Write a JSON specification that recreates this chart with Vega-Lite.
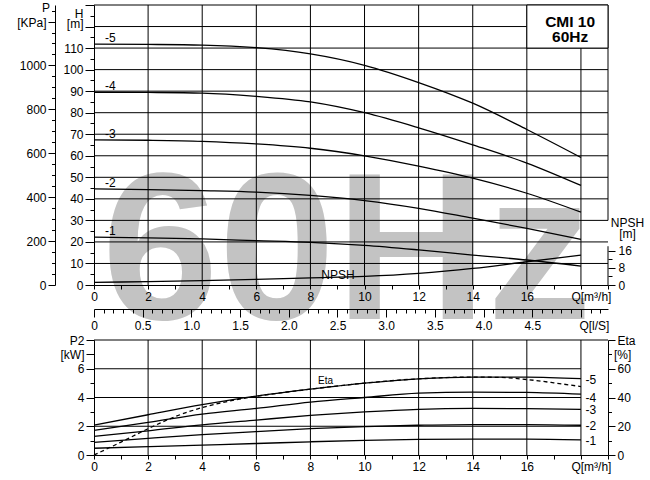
{
  "$schema": "https://vega.github.io/schema/vega-lite/v6.json",
  "padding": {"left": 16, "top": 1, "right": 5, "bottom": 5},
  "autosize": {"type": "pad"},
  "config": {
    "font": "Liberation Sans",
    "view": {"stroke": null},
    "axis": {
      "zindex": 2,
      "grid": false,
      "domainColor": "black",
      "domainWidth": 1,
      "tickColor": "black",
      "tickWidth": 1,
      "labelColor": "black",
      "labelFont": "Liberation Sans",
      "labelFontSize": 12,
      "labelOverlap": false,
      "labelFlush": false,
      "labelBound": false
    }
  },
  "datasets": {
    "head": [
      {"s": "-5", "q": 0, "h": 111.8}, {"s": "-5", "q": 2, "h": 111.7}, {"s": "-5", "q": 4, "h": 111.4}, {"s": "-5", "q": 6, "h": 110.2}, {"s": "-5", "q": 8, "h": 107.3}, {"s": "-5", "q": 10, "h": 102}, {"s": "-5", "q": 12, "h": 94}, {"s": "-5", "q": 14, "h": 84.4}, {"s": "-5", "q": 16, "h": 72.2}, {"s": "-5", "q": 18, "h": 59.2},
      {"s": "-4", "q": 0, "h": 89.5}, {"s": "-4", "q": 2, "h": 89.4}, {"s": "-4", "q": 4, "h": 89.1}, {"s": "-4", "q": 6, "h": 87.6}, {"s": "-4", "q": 8, "h": 85}, {"s": "-4", "q": 10, "h": 80}, {"s": "-4", "q": 12, "h": 73}, {"s": "-4", "q": 14, "h": 65.1}, {"s": "-4", "q": 16, "h": 56.6}, {"s": "-4", "q": 18, "h": 46.2},
      {"s": "-3", "q": 0, "h": 67.4}, {"s": "-3", "q": 2, "h": 67.2}, {"s": "-3", "q": 4, "h": 66.7}, {"s": "-3", "q": 6, "h": 65.5}, {"s": "-3", "q": 8, "h": 63.5}, {"s": "-3", "q": 10, "h": 60}, {"s": "-3", "q": 12, "h": 55.2}, {"s": "-3", "q": 14, "h": 49.6}, {"s": "-3", "q": 16, "h": 42.6}, {"s": "-3", "q": 18, "h": 33.8},
      {"s": "-2", "q": 0, "h": 44.6}, {"s": "-2", "q": 2, "h": 44.3}, {"s": "-2", "q": 4, "h": 43.8}, {"s": "-2", "q": 6, "h": 43.1}, {"s": "-2", "q": 8, "h": 41.6}, {"s": "-2", "q": 10, "h": 39.2}, {"s": "-2", "q": 12, "h": 35.6}, {"s": "-2", "q": 14, "h": 31}, {"s": "-2", "q": 16, "h": 26.3}, {"s": "-2", "q": 18, "h": 21.2},
      {"s": "-1", "q": 0, "h": 22.2}, {"s": "-1", "q": 2, "h": 21.9}, {"s": "-1", "q": 4, "h": 21.4}, {"s": "-1", "q": 6, "h": 20.6}, {"s": "-1", "q": 8, "h": 19.8}, {"s": "-1", "q": 10, "h": 18.4}, {"s": "-1", "q": 12, "h": 16.3}, {"s": "-1", "q": 14, "h": 13.9}, {"s": "-1", "q": 16, "h": 11.6}, {"s": "-1", "q": 18, "h": 8.8},
      {"s": "NPSH", "q": 0, "h": 1.2}, {"s": "NPSH", "q": 2, "h": 1.6}, {"s": "NPSH", "q": 4, "h": 2.0}, {"s": "NPSH", "q": 6, "h": 2.6}, {"s": "NPSH", "q": 8, "h": 3.3}, {"s": "NPSH", "q": 10, "h": 4.0}, {"s": "NPSH", "q": 12, "h": 5.4}, {"s": "NPSH", "q": 14, "h": 7.7}, {"s": "NPSH", "q": 16, "h": 10.8}, {"s": "NPSH", "q": 18, "h": 13.9}
    ],
    "power": [
      {"s": "-5", "q": 0, "p": 2.08}, {"s": "-5", "q": 2, "p": 2.8}, {"s": "-5", "q": 4, "p": 3.5}, {"s": "-5", "q": 6, "p": 4.1}, {"s": "-5", "q": 8, "p": 4.58}, {"s": "-5", "q": 10, "p": 5.0}, {"s": "-5", "q": 12, "p": 5.3}, {"s": "-5", "q": 14, "p": 5.42}, {"s": "-5", "q": 16, "p": 5.42}, {"s": "-5", "q": 18, "p": 5.31},
      {"s": "-4", "q": 0, "p": 1.72}, {"s": "-4", "q": 2, "p": 2.27}, {"s": "-4", "q": 4, "p": 2.85}, {"s": "-4", "q": 6, "p": 3.24}, {"s": "-4", "q": 8, "p": 3.68}, {"s": "-4", "q": 10, "p": 4.0}, {"s": "-4", "q": 12, "p": 4.3}, {"s": "-4", "q": 14, "p": 4.38}, {"s": "-4", "q": 16, "p": 4.35}, {"s": "-4", "q": 18, "p": 4.23},
      {"s": "-3", "q": 0, "p": 1.3}, {"s": "-3", "q": 2, "p": 1.68}, {"s": "-3", "q": 4, "p": 2.1}, {"s": "-3", "q": 6, "p": 2.43}, {"s": "-3", "q": 8, "p": 2.75}, {"s": "-3", "q": 10, "p": 3.0}, {"s": "-3", "q": 12, "p": 3.18}, {"s": "-3", "q": 14, "p": 3.24}, {"s": "-3", "q": 16, "p": 3.22}, {"s": "-3", "q": 18, "p": 3.17},
      {"s": "-2", "q": 0, "p": 0.88}, {"s": "-2", "q": 2, "p": 1.16}, {"s": "-2", "q": 4, "p": 1.42}, {"s": "-2", "q": 6, "p": 1.63}, {"s": "-2", "q": 8, "p": 1.83}, {"s": "-2", "q": 10, "p": 1.98}, {"s": "-2", "q": 12, "p": 2.07}, {"s": "-2", "q": 14, "p": 2.12}, {"s": "-2", "q": 16, "p": 2.12}, {"s": "-2", "q": 18, "p": 2.07},
      {"s": "-1", "q": 0, "p": 0.47}, {"s": "-1", "q": 2, "p": 0.58}, {"s": "-1", "q": 4, "p": 0.69}, {"s": "-1", "q": 6, "p": 0.8}, {"s": "-1", "q": 8, "p": 0.92}, {"s": "-1", "q": 10, "p": 1.02}, {"s": "-1", "q": 12, "p": 1.08}, {"s": "-1", "q": 14, "p": 1.1}, {"s": "-1", "q": 16, "p": 1.1}, {"s": "-1", "q": 18, "p": 1.05}
    ],
    "eta": [
      {"q": 0, "eta": 0}, {"q": 1, "eta": 9}, {"q": 2, "eta": 18.3}, {"q": 3, "eta": 26.7}, {"q": 4, "eta": 33}, {"q": 5, "eta": 37.5}, {"q": 6, "eta": 40.8}, {"q": 8, "eta": 45.8}, {"q": 10, "eta": 50}, {"q": 12, "eta": 53}, {"q": 14, "eta": 54.2}, {"q": 15, "eta": 54}, {"q": 16, "eta": 52.5}, {"q": 17, "eta": 50.2}, {"q": 18, "eta": 47.6}
    ]
  },
  "bounds": "flush",
  "spacing": 55,
  "vconcat": [
    {
      "width": 514,
      "height": 280,
      "resolve": {"scale": {"x": "independent", "y": "independent"}},
      "layer": [
        {
          "data": {"values": [{}]},
          "mark": {"type": "text", "text": "60Hz", "font": "Liberation Sans", "fontSize": 210, "fontWeight": "bold", "color": "#c3c3c3", "align": "center", "baseline": "alphabetic"},
          "encoding": {
            "x": {"datum": 9.35, "type": "quantitative", "scale": {"domain": [0, 19], "nice": false, "zero": false}, "axis": null},
            "y": {"datum": -15.6, "type": "quantitative", "scale": {"domain": [0, 130], "nice": false, "zero": false}, "axis": null}
          }
        },
        {
          "data": {"values": [{"h": 10}, {"h": 20}, {"h": 30}, {"h": 40}, {"h": 50}, {"h": 60}, {"h": 70}, {"h": 80}, {"h": 90}, {"h": 100}, {"h": 110}, {"h": 120}, {"h": 130}]},
          "mark": {"type": "rule", "color": "black", "strokeWidth": 1},
          "encoding": {
            "y": {"field": "h", "type": "quantitative", "scale": {"domain": [0, 130], "nice": false, "zero": false}, "axis": null}
          }
        },
        {
          "data": {"values": [
            {"q": 2, "lo": 0, "hi": 130}, {"q": 4, "lo": 0, "hi": 130}, {"q": 6, "lo": 0, "hi": 130}, {"q": 8, "lo": 0, "hi": 130}, {"q": 10, "lo": 0, "hi": 130}, {"q": 12, "lo": 0, "hi": 130}, {"q": 14, "lo": 0, "hi": 130}, {"q": 16, "lo": 0, "hi": 130}, {"q": 18, "lo": 0, "hi": 130},
            {"q": 19, "lo": 30, "hi": 130}, {"q": 19, "lo": 0, "hi": 18}
          ]},
          "mark": {"type": "rule", "color": "black", "strokeWidth": 1},
          "encoding": {
            "x": {"field": "q", "type": "quantitative", "scale": {"domain": [0, 19], "nice": false, "zero": false}, "axis": null},
            "y": {"field": "lo", "type": "quantitative", "scale": {"domain": [0, 130], "nice": false, "zero": false},
              "axis": {
                "zindex": 2,
                "orient": "right", "domain": false, "values": [0, 4, 8, 12, 16], "format": "d",
                "labelExpr": "datum.value % 8 == 0 ? datum.label : ''",
                "tickSize": {"condition": {"test": "datum.value % 8 == 0", "value": 7}, "value": 4},
                "labelPadding": 3,
                "title": ["NPSH", "[m]"], "titleAngle": 0, "titleAlign": "center", "titleBaseline": "top",
                "titleX": 19, "titleY": 212, "titleFontSize": 12, "titleFontWeight": "normal", "titleLineHeight": 11, "titleColor": "black"
              }
            },
            "y2": {"field": "hi"}
          }
        },
        {
          "data": {"values": [{}]},
          "mark": {"type": "rect", "fill": "white", "stroke": "black", "strokeWidth": 1},
          "encoding": {
            "x": {"datum": 16, "type": "quantitative", "scale": {"domain": [0, 19], "nice": false, "zero": false}, "axis": null},
            "x2": {"datum": 19},
            "y": {"datum": 110, "type": "quantitative", "scale": {"domain": [0, 130], "nice": false, "zero": false}, "axis": null},
            "y2": {"datum": 130}
          }
        },
        {
          "data": {"values": [{}]},
          "mark": {"type": "text", "text": ["CMI 10", "60Hz"], "lineHeight": 15, "fontSize": 15.5, "fontWeight": "bold", "align": "center", "baseline": "top", "color": "black"},
          "encoding": {
            "x": {"datum": 17.6, "type": "quantitative", "scale": {"domain": [0, 19], "nice": false, "zero": false}, "axis": null},
            "y": {"datum": 125.2, "type": "quantitative", "scale": {"domain": [0, 130], "nice": false, "zero": false}, "axis": null}
          }
        },
        {
          "data": {"name": "head"},
          "mark": {"type": "line", "color": "black", "strokeWidth": 1.3, "interpolate": "monotone"},
          "encoding": {
            "x": {"field": "q", "type": "quantitative", "scale": {"domain": [0, 19], "nice": false, "zero": false},
              "axis": {
                "zindex": 2,
                "orient": "bottom", "title": null, "format": "d",
                "values": [0, 0.5, 1, 1.5, 2, 2.5, 3, 3.5, 4, 4.5, 5, 5.5, 6, 6.5, 7, 7.5, 8, 8.5, 9, 9.5, 10, 10.5, 11, 11.5, 12, 12.5, 13, 13.5, 14, 14.5, 15, 15.5, 16, 16.5, 17, 17.5, 18, 18.5, 19],
                "labelExpr": "datum.value == 18 ? 'Q[m³/h]' : ((datum.value % 2 == 0 && datum.value < 18) ? datum.label : '')",
                "labelOffset": {"condition": {"test": "datum.value == 18", "value": 10}, "value": 0},
                "tickSize": 4, "labelPadding": 2
              }
            },
            "y": {"field": "h", "type": "quantitative", "scale": {"domain": [0, 130], "nice": false, "zero": false},
              "axis": {
                "zindex": 2,
                "orient": "left", "title": null, "format": "d",
                "values": [0, 5, 10, 15, 20, 25, 30, 35, 40, 45, 50, 55, 60, 65, 70, 75, 80, 85, 90, 95, 100, 105, 110, 115, 120, 125, 130],
                "labelExpr": "datum.value == 130 ? 'H' : (datum.value == 120 ? '[m]' : (datum.value % 10 == 0 ? datum.label : ''))",
                "labelOffset": {"condition": [{"test": "datum.value == 130", "value": 8}, {"test": "datum.value == 120", "value": -3}], "value": 0},
                "tickSize": {"condition": {"test": "datum.value % 10 == 0", "value": 9}, "value": 4},
                "labelPadding": 2
              }
            },
            "detail": {"field": "s"}
          }
        },
        {
          "data": {"name": "head"},
          "transform": [{"filter": "datum.q == 0 && datum.s != 'NPSH'"}],
          "mark": {"type": "text", "align": "left", "baseline": "middle", "dx": 11, "dy": -6, "fontSize": 12, "color": "black"},
          "encoding": {
            "x": {"field": "q", "type": "quantitative", "scale": {"domain": [0, 19], "nice": false, "zero": false}, "axis": null},
            "y": {"field": "h", "type": "quantitative", "scale": {"domain": [0, 130], "nice": false, "zero": false}, "axis": null},
            "text": {"field": "s"}
          }
        },
        {
          "data": {"values": [{}]},
          "mark": {"type": "text", "text": "NPSH", "align": "left", "baseline": "middle", "fontSize": 12, "color": "black"},
          "encoding": {
            "x": {"datum": 8.4, "type": "quantitative", "scale": {"domain": [0, 19], "nice": false, "zero": false}, "axis": null},
            "y": {"datum": 4.6, "type": "quantitative", "scale": {"domain": [0, 130], "nice": false, "zero": false}, "axis": null}
          }
        },
        {
          "data": {"values": [{}]},
          "mark": {"type": "rule", "strokeOpacity": 0},
          "encoding": {
            "y": {"datum": 0, "type": "quantitative", "scale": {"domain": [0, 1275.3], "nice": false, "zero": false},
              "axis": {
                "zindex": 2,
                "orient": "left", "offset": 39, "title": null, "format": "d",
                "values": [0, 50, 100, 150, 200, 250, 300, 350, 400, 450, 500, 550, 600, 650, 700, 750, 800, 850, 900, 950, 1000, 1050, 1100, 1150, 1200, 1250],
                "labelExpr": "datum.value == 1250 ? 'P' : (datum.value == 1200 ? '[KPa]' : ((datum.value % 200 == 0 && datum.value <= 1000) ? datum.label : ''))",
                "labelOffset": {"condition": [{"test": "datum.value == 1250", "value": -3}, {"test": "datum.value == 1200", "value": 1}], "value": 0},
                "tickSize": {"condition": {"test": "datum.value % 200 == 0", "value": 7}, "value": 3.5},
                "labelPadding": 2
              }
            }
          }
        },
        {
          "data": {"values": [{}]},
          "mark": {"type": "rule", "strokeOpacity": 0},
          "encoding": {
            "x": {"datum": 0, "type": "quantitative", "scale": {"domain": [0, 5.27778], "nice": false, "zero": false},
              "axis": {
                "zindex": 2,
                "orient": "bottom", "offset": 24, "title": null,
                "values": [0, 0.1, 0.2, 0.3, 0.4, 0.5, 0.6, 0.7, 0.8, 0.9, 1, 1.1, 1.2, 1.3, 1.4, 1.5, 1.6, 1.7, 1.8, 1.9, 2, 2.1, 2.2, 2.3, 2.4, 2.5, 2.6, 2.7, 2.8, 2.9, 3, 3.1, 3.2, 3.3, 3.4, 3.5, 3.6, 3.7, 3.8, 3.9, 4, 4.1, 4.2, 4.3, 4.4, 4.5, 4.6, 4.7, 4.8, 4.9, 5, 5.1, 5.2],
                "labelExpr": "datum.value == 0 ? '0' : (datum.value == 5 ? 'Q[l/S]' : (round(datum.value * 10) % 5 == 0 ? format(datum.value, '.1f') : ''))",
                "labelOffset": {"condition": {"test": "datum.value == 5", "value": 13}, "value": 0},
                "tickSize": {"condition": {"test": "round(datum.value * 10) % 5 == 0", "value": 8}, "value": 4},
                "labelPadding": 3
              }
            }
          }
        }
      ]
    },
    {
      "width": 514,
      "height": 115,
      "resolve": {"scale": {"x": "independent", "y": "independent"}},
      "layer": [
        {
          "data": {"values": [{"p": 2, "lo": 0, "hi": 18}, {"p": 4, "lo": 0, "hi": 18}, {"p": 6, "lo": 0, "hi": 18}, {"p": 8, "lo": 0, "hi": 19}]},
          "mark": {"type": "rule", "color": "black", "strokeWidth": 1},
          "encoding": {
            "y": {"field": "p", "type": "quantitative", "scale": {"domain": [0, 8], "nice": false, "zero": false}, "axis": null},
            "x": {"field": "lo", "type": "quantitative", "scale": {"domain": [0, 19], "nice": false, "zero": false}, "axis": null},
            "x2": {"field": "hi"}
          }
        },
        {
          "data": {"values": [{"q": 2}, {"q": 4}, {"q": 6}, {"q": 8}, {"q": 10}, {"q": 12}, {"q": 14}, {"q": 16}, {"q": 18}]},
          "mark": {"type": "rule", "color": "black", "strokeWidth": 1},
          "encoding": {
            "x": {"field": "q", "type": "quantitative", "scale": {"domain": [0, 19], "nice": false, "zero": false}, "axis": null}
          }
        },
        {
          "data": {"name": "power"},
          "mark": {"type": "line", "color": "black", "strokeWidth": 1.3, "interpolate": "monotone"},
          "encoding": {
            "x": {"field": "q", "type": "quantitative", "scale": {"domain": [0, 19], "nice": false, "zero": false},
              "axis": {
                "zindex": 2,
                "orient": "bottom", "title": null, "format": "d",
                "values": [0, 0.5, 1, 1.5, 2, 2.5, 3, 3.5, 4, 4.5, 5, 5.5, 6, 6.5, 7, 7.5, 8, 8.5, 9, 9.5, 10, 10.5, 11, 11.5, 12, 12.5, 13, 13.5, 14, 14.5, 15, 15.5, 16, 16.5, 17, 17.5, 18, 18.5, 19],
                "labelExpr": "datum.value == 18 ? 'Q[m³/h]' : ((datum.value % 2 == 0 && datum.value < 18) ? datum.label : '')",
                "labelOffset": {"condition": {"test": "datum.value == 18", "value": 10}, "value": 0},
                "tickSize": 4, "labelPadding": 2
              }
            },
            "y": {"field": "p", "type": "quantitative", "scale": {"domain": [0, 8], "nice": false, "zero": false},
              "axis": {
                "zindex": 2,
                "orient": "left", "title": null, "format": "d",
                "values": [0, 1, 2, 3, 4, 5, 6, 7, 8],
                "labelExpr": "datum.value == 8 ? 'P2' : (datum.value == 7 ? '[kW]' : (datum.value % 2 == 0 ? datum.label : ''))",
                "tickSize": {"condition": {"test": "datum.value % 2 == 0 || datum.value == 7", "value": 8}, "value": 4},
                "labelPadding": 2
              }
            },
            "detail": {"field": "s"}
          }
        },
        {
          "data": {"name": "eta"},
          "mark": {"type": "line", "color": "black", "strokeWidth": 1.3, "strokeDash": [4, 3], "interpolate": "monotone"},
          "encoding": {
            "x": {"field": "q", "type": "quantitative", "scale": {"domain": [0, 19], "nice": false, "zero": false}, "axis": null},
            "y": {"field": "eta", "type": "quantitative", "scale": {"domain": [0, 80], "nice": false, "zero": false},
              "axis": {
                "zindex": 2,
                "orient": "right", "title": null, "format": "d",
                "values": [0, 10, 20, 30, 40, 50, 60, 70, 80],
                "labelExpr": "datum.value == 80 ? 'Eta' : (datum.value == 70 ? '[%]' : (datum.value % 20 == 0 ? datum.label : ''))",
                "tickSize": {"condition": {"test": "datum.value % 20 == 0", "value": 7}, "value": 3.5},
                "labelPadding": 2
              }
            }
          }
        },
        {
          "data": {"values": [{"t": "-5", "p": 5.25}, {"t": "-4", "p": 4.0}, {"t": "-3", "p": 3.15}, {"t": "-2", "p": 2.0}, {"t": "-1", "p": 1.0}]},
          "mark": {"type": "text", "align": "left", "baseline": "middle", "fontSize": 12, "color": "black"},
          "encoding": {
            "x": {"datum": 18.17, "type": "quantitative", "scale": {"domain": [0, 19], "nice": false, "zero": false}, "axis": null},
            "y": {"field": "p", "type": "quantitative", "scale": {"domain": [0, 8], "nice": false, "zero": false}, "axis": null},
            "text": {"field": "t"}
          }
        },
        {
          "data": {"values": [{}]},
          "mark": {"type": "text", "text": "Eta", "align": "center", "baseline": "middle", "fontSize": 10, "color": "black"},
          "encoding": {
            "x": {"datum": 8.56, "type": "quantitative", "scale": {"domain": [0, 19], "nice": false, "zero": false}, "axis": null},
            "y": {"datum": 5.14, "type": "quantitative", "scale": {"domain": [0, 8], "nice": false, "zero": false}, "axis": null}
          }
        }
      ]
    }
  ]
}
